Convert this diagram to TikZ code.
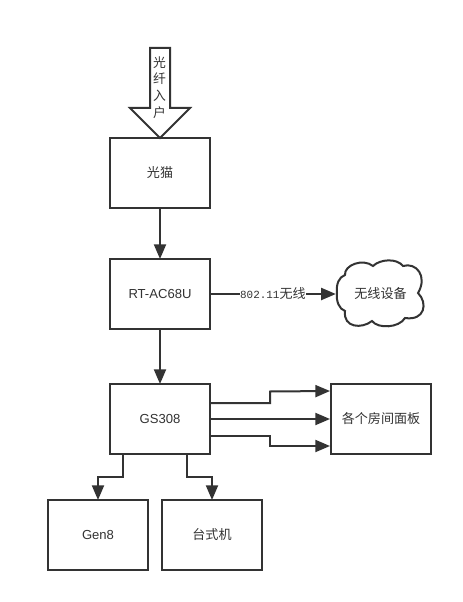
\documentclass[tikz,border=0pt]{standalone}
\usepackage{fontspec}
\setmainfont{Liberation Sans}
\newfontfamily\cjk{Noto Sans CJK SC}[Scale=1.0]
\newfontfamily\monof{Liberation Mono}
\usetikzlibrary{arrows.meta}
\definecolor{ink}{HTML}{333333}
\tikzset{
  box/.style={draw=ink,line width=1.5pt,minimum width=75pt,minimum height=52.5pt,inner sep=0pt,outer sep=0pt,text=ink,font=\fontsize{9.8pt}{11pt}\selectfont},
  conn/.style={draw=ink,line width=1.5pt,-{Triangle[length=11pt,width=9pt,color=ink]}},
  lab/.style={text=ink,inner sep=0pt,font=\fontsize{9.8pt}{11pt}\selectfont}
}
\begin{document}
\begin{tikzpicture}[x=0.75pt,y=-0.75pt]
\useasboundingbox (0,0) rectangle (463,602);
\fill[white] (0,0) rectangle (463,602);
% fibre block arrow
\draw[ink,line width=1.5pt,line join=miter,fill=white] (150,48) -- (170,48) -- (170,108) -- (190,108) -- (160,138) -- (130,108) -- (150,108) -- cycle;
\node[lab,align=center,font=\fontsize{9.6pt}{12.6pt}\selectfont] (fibre) at (159.5,87.5) {\cjk 光\\\cjk 纤\\\cjk 入\\\cjk 户};
% boxes
\node[box] (modem) at (160,173) {\cjk 光猫};
\node[box] (router) at (160,294) {RT-AC68U};
\node[box] (switch) at (160,419) {GS308};
\node[box] (panel) at (381,419) {\cjk 各个房间面板};
\node[box] (gen) at (98,535) {Gen8};
\node[box] (desk) at (212,535) {\cjk 台式机};
% cloud
\draw[ink,line width=1.5pt,fill=white]
  (337,293) .. controls (336,284) and (339,277) .. (345,275)
  .. controls (344,265) and (363,258) .. (373,266)
  .. controls (380,259) and (397,258) .. (403,266)
  .. controls (416,262) and (428,276) .. (418,293)
  .. controls (428,303) and (425,321) .. (405,318)
  .. controls (399,328) and (378,329) .. (372,321)
  .. controls (362,329) and (343,328) .. (345,311)
  .. controls (339,309) and (336,301) .. (337,293) -- cycle;
\node[lab,minimum width=67pt,minimum height=50pt,outer sep=0pt] (wifi) at (380.5,294) {\cjk 无线设备};
% connectors
\draw[conn] (modem) -- (router);
\draw[conn] (router) -- (switch);
\draw[conn] (router.east) -- node[lab,fill=white,inner xsep=0pt] (wl) {\fontsize{8.2pt}{11pt}\selectfont\monof 802.11\fontsize{9.8pt}{11pt}\selectfont\cjk 无线} (wifi.west);
\coordinate (a1) at (210,403);
\coordinate (a2) at (330,391);
\coordinate (b1) at (210,419);
\coordinate (b2) at (330,419);
\coordinate (c1) at (210,436);
\coordinate (c2) at (330,446);
\draw[conn] (a1) -- (270,403) -- (270,391.5) -- (a2);
\draw[conn] (b1) -- (b2);
\draw[conn] (c1) -- (270,436) -- (270,446) -- (c2);
\coordinate (d1) at (123,454);
\coordinate (e1) at (187,454);
\draw[conn] (d1) -- (123,477) -- (98,477) -- (gen.north);
\draw[conn] (e1) -- (187,477) -- (212,477) -- (desk.north);
\end{tikzpicture}
\end{document}
